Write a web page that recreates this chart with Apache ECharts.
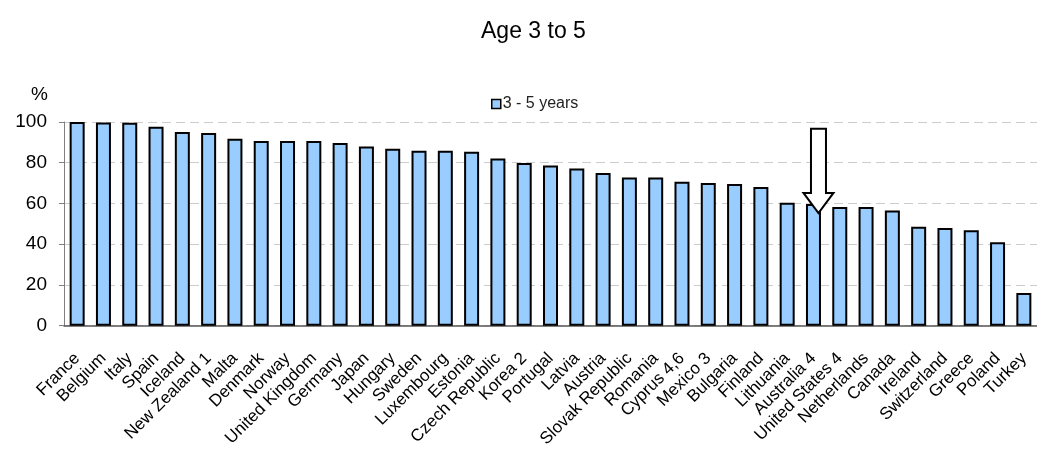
<!DOCTYPE html>
<html>
<head>
<meta charset="utf-8">
<script src="https://cdn.jsdelivr.net/npm/echarts@6/dist/echarts.min.js"></script>
<style>
html,body{margin:0;padding:0;background:#fff;}
#chart{width:1037px;height:450px;}
</style>
</head>
<body>
<div id="chart"></div>
<script>
const titleText = 'Age 3 to 5';
const seriesName = '3 - 5 years';
const categories = ['France','Belgium','Italy','Spain','Iceland','New Zealand 1','Malta','Denmark','Norway','United Kingdom','Germany','Japan','Hungary','Sweden','Luxembourg','Estonia','Czech Republic','Korea 2','Portugal','Latvia','Austria','Slovak Republic','Romania','Cyprus 4,6','Mexico 3','Bulgaria','Finland','Lithuania','Australia 4','United States 4','Netherlands','Canada','Ireland','Switzerland','Greece','Poland','Turkey'];
const values = [100,99.8,99.6,97.7,95.1,94.6,91.8,90.7,90.7,90.7,89.7,88.0,86.9,85.9,85.9,85.4,82.1,79.9,78.7,77.2,75.0,72.8,72.8,70.7,70.0,69.5,68.1,60.4,59.7,58.3,58.3,56.6,48.6,48.0,46.8,40.9,16.0];
const yTicks = [0,20,40,60,80,100];
// annotation arrow (pointing at Australia)
const arrowCategory = 'Australia 4';
const arrowTopValue = 96.7;
const arrowShoulderValue = 65.2;
const arrowTipValue = 55.3;

const chart = echarts.init(document.getElementById('chart'), null, {renderer:'canvas'});
const font = 'Arial, "Liberation Sans", Helvetica, sans-serif';
chart.setOption({
  animation:false,
  backgroundColor:'#fff',
  textStyle:{fontFamily:font},
  title:{text:titleText,left:476,top:15,textStyle:{fontSize:23,fontWeight:'normal',color:'#000',fontFamily:font}},
  legend:{
    data:[seriesName],left:486,top:91,itemWidth:9,itemHeight:9,
    icon:'rect',
    textStyle:{fontSize:16,color:'#222',fontFamily:font,padding:[0,0,0,-3]},
    itemStyle:{color:'#99CCFF',borderColor:'#000',borderWidth:1.5}
  },
  grid:{left:64,right:-7.5,top:122,bottom:124,containLabel:false},
  xAxis:{
    type:'category',data:categories,
    axisLine:{show:true,lineStyle:{color:'#555',width:1.5}},
    axisTick:{show:false},
    axisLabel:{interval:0,rotate:45,fontSize:17,color:'#000',margin:30,fontFamily:font}
  },
  yAxis:{
    type:'value',min:yTicks[0],max:yTicks[yTicks.length-1],interval:20,
    name:'%',nameLocation:'end',nameGap:18,
    nameTextStyle:{fontSize:19,color:'#000',align:'right',padding:[0,16,0,0],fontFamily:font},
    axisLine:{show:true,lineStyle:{color:'#808080',width:1}},
    axisTick:{show:true,inside:false,length:5,lineStyle:{color:'#808080'}},
    axisLabel:{fontSize:19,color:'#000',margin:17,fontFamily:font},
    splitLine:{show:true,lineStyle:{color:'#cccccc',type:[9,5],width:1}}
  },
  series:[{
    name:seriesName,type:'bar',data:values,barWidth:15,
    itemStyle:{color:'#99CCFF',borderColor:'#000',borderWidth:2}
  }]
});

function drawArrow(){
  const t = chart.convertToPixel({seriesIndex:0},[arrowCategory,arrowTopValue]);
  const s = chart.convertToPixel({seriesIndex:0},[arrowCategory,arrowShoulderValue]);
  const p = chart.convertToPixel({seriesIndex:0},[arrowCategory,arrowTipValue]);
  const cx = t[0]+5, hw = 7.5, hh = 15;
  chart.setOption({graphic:[{
    type:'polygon',z:100,
    shape:{points:[[cx-hw,t[1]],[cx+hw,t[1]],[cx+hw,s[1]],[cx+hh,s[1]],[cx,p[1]],[cx-hh,s[1]],[cx-hw,s[1]]]},
    style:{fill:'#fff',stroke:'#000',lineWidth:2}
  }]});
}
drawArrow();
</script>
</body>
</html>
